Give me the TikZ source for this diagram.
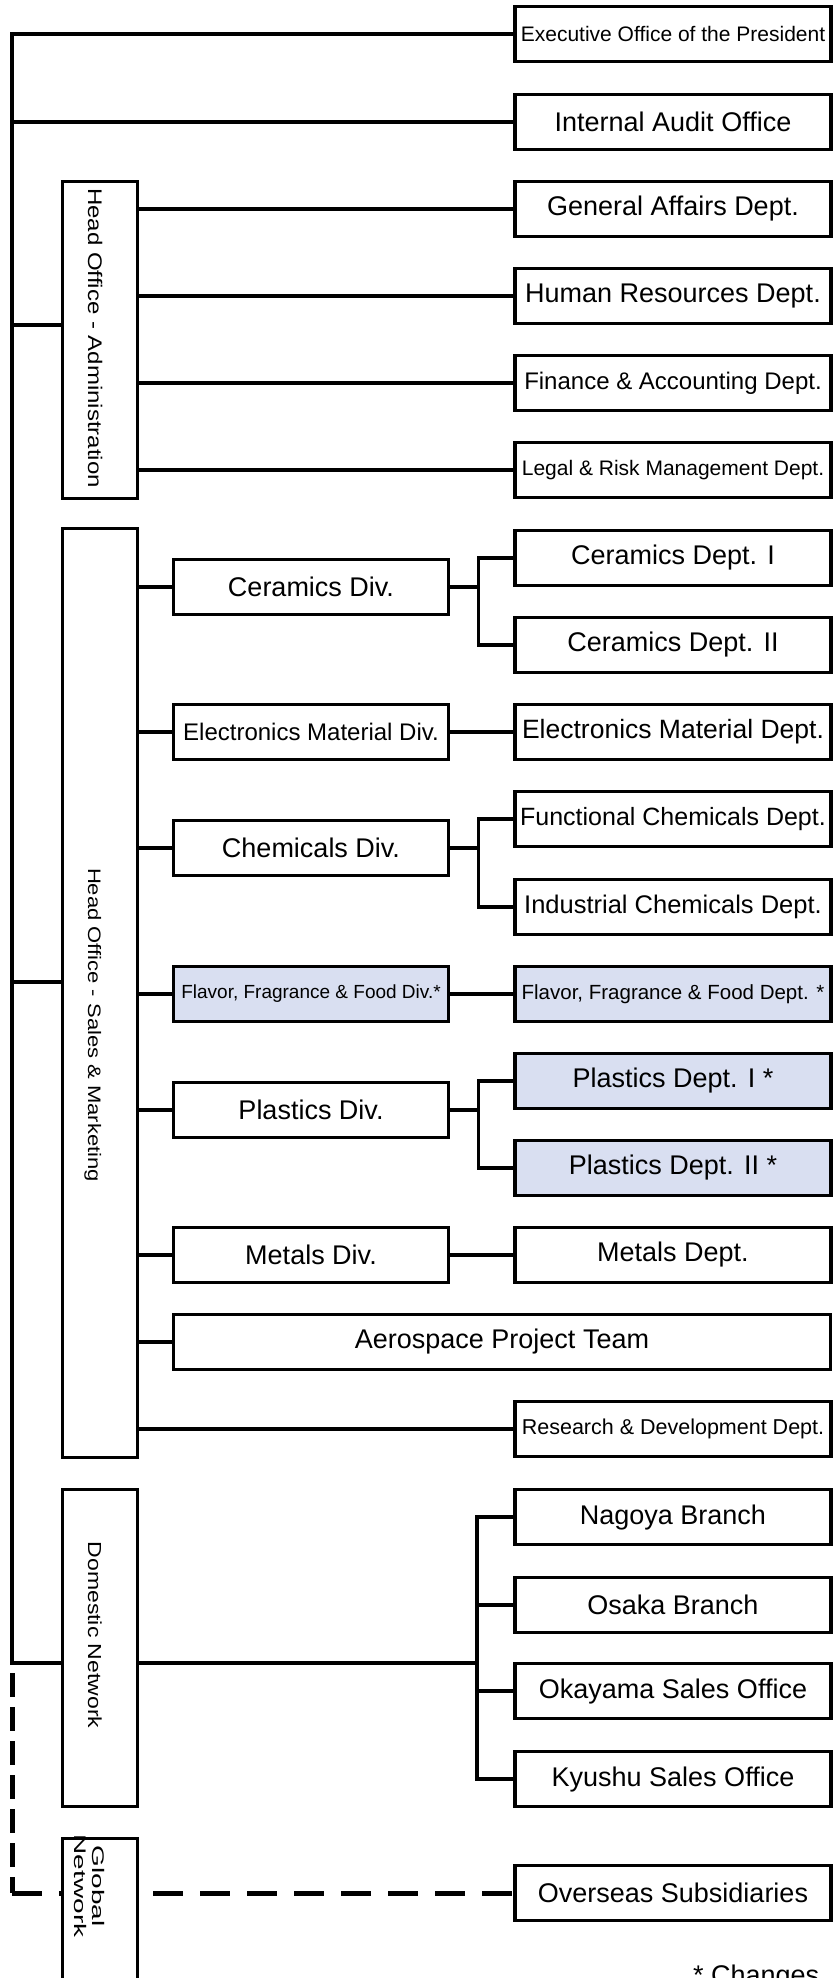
\documentclass[tikz,border=0pt]{standalone}
\usepackage{fontspec}
\setmainfont{Liberation Sans}
\usepackage{graphicx}
\definecolor{changed}{RGB}{217,223,241}
\newcommand\fsz[1]{\fontsize{#1}{#1}\selectfont}

\begin{document}
\begin{tikzpicture}[x=1pt,y=-1pt,
box/.style={draw,line width=3.2pt,fill=white,inner sep=0pt,minimum height=55pt},
dept/.style={box,minimum width=316pt},
div/.style={box,minimum width=275pt},
grp/.style={box,minimum width=75pt,minimum height=317pt},
conn/.style={line width=3.2pt},
globline/.style={line width=5pt},
vtext/.style={rotate=-90,inner sep=0pt}]

\useasboundingbox (0,0) rectangle (835,1978);

% right column
\node[dept,font=\fsz{21}] (exec) at (673,34) {Executive Office of the President};
\node[dept,font=\fsz{27}] (audit) at (673,122) {Internal Audit Office};
\node[dept,font=\fsz{27}] (ga) at (673,209) {General Affairs Dept.};
\node[dept,font=\fsz{27}] (hr) at (673,296) {Human Resources Dept.};
\node[dept,font=\fsz{24}] (fin) at (673,383) {Finance \& Accounting Dept.};
\node[dept,font=\fsz{21}] (legal) at (673,470) {Legal \& Risk Management Dept.};
\node[dept,font=\fsz{27}] (cer1) at (673,558) {Ceramics Dept. I};
\node[dept,font=\fsz{27}] (cer2) at (673,645) {Ceramics Dept. II};
\node[dept,font=\fsz{26.5}] (elecdept) at (673,732) {Electronics Material Dept.};
\node[dept,font=\fsz{25}] (funcchem) at (673,819) {Functional Chemicals Dept.};
\node[dept,font=\fsz{25.5}] (indchem) at (673,907) {Industrial Chemicals Dept.};
\node[dept,fill=changed,font=\fsz{20.5}] (flavdept) at (673,994) {Flavor, Fragrance \& Food Dept. *};
\node[dept,fill=changed,font=\fsz{27}] (plas1) at (673,1081) {Plastics Dept. I *};
\node[dept,fill=changed,font=\fsz{27}] (plas2) at (673,1168) {Plastics Dept. II *};
\node[dept,font=\fsz{27}] (metdept) at (673,1255) {Metals Dept.};
\node[box,minimum width=657pt,font=\fsz{27}] (aero) at (502,1342) {Aerospace Project Team};
\node[dept,font=\fsz{21.5}] (rd) at (673,1429) {Research \& Development Dept.};
\node[dept,font=\fsz{27}] (nagoya) at (673,1517) {Nagoya Branch};
\node[dept,font=\fsz{27}] (osaka) at (673,1605) {Osaka Branch};
\node[dept,font=\fsz{27}] (okayama) at (673,1691) {Okayama Sales Office};
\node[dept,font=\fsz{27}] (kyushu) at (673,1779) {Kyushu Sales Office};
\node[dept,font=\fsz{27}] (overseas) at (673,1893) {Overseas Subsidiaries};

% divisions
\node[div,font=\fsz{27}] (cerdiv) at (311,587) {Ceramics Div.};
\node[div,font=\fsz{24}] (elecdiv) at (311,732) {Electronics Material Div.};
\node[div,font=\fsz{27}] (chemdiv) at (311,848) {Chemicals Div.};
\node[div,fill=changed,font=\fsz{19}] (flavdiv) at (311,994) {Flavor, Fragrance \& Food Div.*};
\node[div,font=\fsz{27}] (plasdiv) at (311,1110) {Plastics Div.};
\node[div,font=\fsz{27}] (metdiv) at (311,1255) {Metals Div.};

% groups
\node[grp] (admin) at (100,340) {};
\node[grp,minimum height=929pt] (sales) at (100,993) {};
\node[grp] (domestic) at (100,1648) {};
\node[vtext,anchor=base,font=\fsz{24}] (admintext) at (88,338) {\scalebox{1}[0.82]{Head Office - Administration}};
\node[vtext,anchor=base,font=\fsz{22}] (salestext) at (88,1025) {\scalebox{1}[0.82]{Head Office - Sales \& Marketing}};
\node[vtext,anchor=base,font=\fsz{23}] (domestictext) at (88,1635) {\scalebox{1}[0.82]{Domestic Network}};

\coordinate (tadmin) at (12,325);
\coordinate (tsales) at (12,982);
\coordinate (tend) at (12,1663);
\coordinate (gstart) at (12,1673);
\coordinate (dsplit) at (477,1663);

% trunk
\draw[conn] (exec.west) -| (tend) -- (tend -| domestic.west);
\draw[conn] (audit.west) -- (audit.west -| tend);
\draw[conn] (tadmin) -- (tadmin -| admin.west);
\draw[conn] (tsales) -- (tsales -| sales.west);

\foreach \d in {ga,hr,fin,legal}
  \draw[conn] (admin.east |- \d.west) -- (\d.west);

\foreach \d in {cerdiv,elecdiv,chemdiv,flavdiv,plasdiv,metdiv,aero,rd}
  \draw[conn] (sales.east |- \d.west) -- (\d.west);
\foreach \a/\b in {elecdiv/elecdept,flavdiv/flavdept,metdiv/metdept}
  \draw[conn] (\a.east) -- (\b.west);
\foreach \a/\b/\c in {cerdiv/cer1/cer2,chemdiv/funcchem/indchem,plasdiv/plas1/plas2}
{
  \draw[conn] (\a.east) -- ++(28.5,0) coordinate (\a split);
  \draw[conn] (\b.west) -| (\a split) |- (\c.west);
}

\draw[conn] (domestic.east |- dsplit) -- (dsplit);
\draw[conn] (nagoya.west) -| (dsplit) |- (kyushu.west);
\foreach \d in {osaka,okayama}
  \draw[conn] (dsplit |- \d.west) -- (\d.west);

% global network
\draw[globline,dash pattern=on 24pt off 10pt] (gstart) -- (gstart |- overseas.west);
\draw[globline,dash pattern=on 30pt off 17pt] (gstart |- overseas.west) -- (overseas.west);
\node[grp] (global) at (100,1997) {};
\node[vtext,font=\fontsize{28}{30}\selectfont] (globaltext) at (87,1886) {\scalebox{1}[0.6]{\begin{tabular}{@{}c@{}}Global\\Network\end{tabular}}};

\node[anchor=base west,inner sep=0pt,font=\fsz{27}] (note) at (693,1984) {* Changes};

\end{tikzpicture}
\end{document}
